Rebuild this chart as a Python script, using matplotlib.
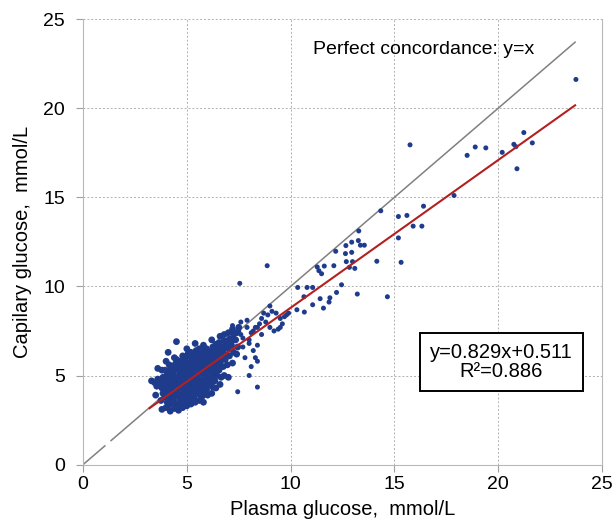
import matplotlib
matplotlib.use("Agg")
import matplotlib.pyplot as plt
import numpy as np

plt.rcParams['font.family'] = ['Liberation Sans', 'DejaVu Sans']

# outlying measurements (plasma, capillary), mmol/L
high_pts = [
    (23.74, 21.61), (15.75, 17.94), (21.23, 18.63), (21.64, 18.05), (20.75, 17.97),
    (20.85, 17.84), (20.90, 16.60), (20.19, 17.52), (18.89, 17.82), (19.40, 17.77),
    (18.50, 17.35), (17.87, 15.10), (14.34, 14.24), (15.19, 13.92), (15.60, 13.98),
    (16.40, 14.50), (15.90, 13.38), (16.32, 13.38), (15.19, 12.72), (15.32, 11.35),
    (14.15, 11.41), (13.28, 13.11), (13.36, 12.31), (13.55, 12.31), (13.26, 12.57),
    (12.94, 12.48), (12.66, 12.29), (12.64, 11.84), (12.94, 11.91), (12.68, 11.39),
    (12.98, 11.39), (12.83, 11.07), (13.09, 11.01), (12.17, 11.97), (12.08, 11.16),
    (11.28, 11.09), (11.62, 11.14), (11.36, 10.88), (11.49, 10.71), (12.45, 10.09),
    (12.21, 9.66), (13.21, 9.57), (14.66, 9.42), (10.34, 9.94), (10.79, 9.94),
    (11.06, 9.94), (10.64, 9.42), (10.30, 8.69), (10.66, 8.56), (11.06, 8.97),
    (11.42, 9.31), (11.89, 9.36), (11.85, 9.12), (11.58, 8.78), (8.87, 11.16),
    (7.55, 10.17), (8.40, 4.35), (7.45, 4.09),
]

mid_pts = [
    (9.10, 8.60), (9.30, 8.50), (9.70, 8.30), (9.50, 8.20), (9.90, 8.50), (8.90, 8.40),
    (8.60, 8.20), (8.50, 7.90), (8.30, 7.70), (8.10, 7.40), (7.90, 7.70), (7.50, 7.50),
    (7.60, 8.00), (8.20, 7.50), (8.40, 7.70), (9.00, 7.70), (9.20, 7.50), (9.50, 7.70),
    (9.60, 7.90), (8.80, 8.00), (7.20, 7.80), (7.70, 7.10), (7.30, 7.40), (7.90, 8.10),
    (8.00, 7.00), (8.40, 6.70), (8.20, 6.40), (8.40, 5.80), (8.10, 5.50), (8.00, 5.00),
    (7.80, 6.00), (8.30, 6.00), (8.60, 7.30), (9.40, 7.60), (9.00, 8.90), (8.70, 8.50),
    (7.70, 6.60), (7.60, 7.30), (8.00, 6.80), (9.80, 8.40),
]

# dense cluster of normal values
cluster_pts = [
    (3.30, 4.70), (3.45, 4.60), (3.60, 5.40), (3.55, 4.40), (3.50, 3.90), (3.60, 4.80),
    (3.80, 3.10), (3.75, 3.60), (3.85, 4.00), (3.80, 4.30), (3.75, 4.60), (3.85, 4.90), (3.80, 5.30),
    (4.00, 3.20), (4.05, 3.50), (3.95, 3.80), (4.00, 4.05), (4.05, 4.30), (3.95, 4.55),
    (4.00, 4.80), (4.05, 5.05), (3.95, 5.30), (4.00, 5.80), (4.10, 6.30),
    (4.20, 3.00), (4.15, 3.35), (4.25, 3.60), (4.20, 3.85), (4.15, 4.10), (4.25, 4.35),
    (4.20, 4.60), (4.15, 4.85), (4.25, 5.10), (4.20, 5.35), (4.15, 5.60),
    (4.40, 3.15), (4.45, 3.40), (4.35, 3.65), (4.40, 3.90), (4.45, 4.15), (4.35, 4.40),
    (4.40, 4.65), (4.45, 4.90), (4.35, 5.15), (4.40, 5.40), (4.45, 5.65), (4.40, 6.00),
    (4.60, 3.05), (4.55, 3.30), (4.65, 3.55), (4.60, 3.80), (4.55, 4.05), (4.65, 4.30),
    (4.60, 4.55), (4.55, 4.80), (4.65, 5.05), (4.60, 5.30), (4.55, 5.55), (4.65, 5.80), (4.50, 6.90),
    (4.80, 3.20), (4.85, 3.45), (4.75, 3.70), (4.80, 3.95), (4.85, 4.20), (4.75, 4.45),
    (4.80, 4.70), (4.85, 4.95), (4.75, 5.20), (4.80, 5.45), (4.85, 5.70), (4.80, 6.10),
    (5.00, 3.30), (4.95, 3.55), (5.05, 3.80), (5.00, 4.05), (4.95, 4.30), (5.05, 4.55),
    (5.00, 4.80), (4.95, 5.05), (5.05, 5.30), (5.00, 5.55), (4.95, 5.80), (5.05, 6.20), (5.00, 6.50),
    (5.20, 3.40), (5.25, 3.65), (5.15, 3.90), (5.20, 4.15), (5.25, 4.40), (5.15, 4.65),
    (5.20, 4.90), (5.25, 5.15), (5.15, 5.40), (5.20, 5.65), (5.25, 5.90), (5.20, 6.30),
    (5.40, 3.50), (5.35, 3.75), (5.45, 4.00), (5.40, 4.25), (5.35, 4.50), (5.45, 4.75),
    (5.40, 5.00), (5.35, 5.25), (5.45, 5.50), (5.40, 5.75), (5.35, 6.00), (5.45, 6.40), (5.40, 6.80),
    (5.60, 3.60), (5.65, 3.90), (5.55, 4.15), (5.60, 4.40), (5.65, 4.65), (5.55, 4.90),
    (5.60, 5.15), (5.65, 5.40), (5.55, 5.65), (5.60, 5.90), (5.65, 6.15), (5.60, 6.50),
    (5.80, 3.50), (5.75, 3.85), (5.85, 4.10), (5.80, 4.35), (5.75, 4.60), (5.85, 4.85),
    (5.80, 5.10), (5.75, 5.35), (5.85, 5.60), (5.80, 5.85), (5.75, 6.10), (5.85, 6.40), (5.80, 6.70),
    (6.00, 3.90), (5.95, 4.20), (6.05, 4.45), (6.00, 4.70), (5.95, 4.95), (6.05, 5.20),
    (6.00, 5.45), (5.95, 5.70), (6.05, 5.95), (6.00, 6.20), (5.95, 6.50),
    (6.20, 4.00), (6.25, 4.35), (6.15, 4.60), (6.20, 4.85), (6.25, 5.10), (6.15, 5.35),
    (6.20, 5.60), (6.25, 5.85), (6.15, 6.10), (6.20, 6.35), (6.25, 6.60), (6.20, 7.00),
    (6.40, 4.30), (6.35, 4.70), (6.45, 5.00), (6.40, 5.25), (6.35, 5.50), (6.45, 5.75),
    (6.40, 6.00), (6.35, 6.25), (6.45, 6.50), (6.40, 6.75),
    (6.60, 4.50), (6.65, 4.90), (6.55, 5.30), (6.60, 5.60), (6.65, 5.85), (6.55, 6.10),
    (6.60, 6.35), (6.65, 6.60), (6.55, 6.85), (6.60, 7.20),
    (6.80, 5.00), (6.75, 5.50), (6.85, 5.90), (6.80, 6.20), (6.75, 6.45), (6.85, 6.70),
    (6.80, 6.95), (6.80, 7.30),
    (7.00, 4.90), (6.95, 5.60), (7.05, 6.10), (7.00, 6.50), (6.95, 6.80), (7.05, 7.05), (7.00, 7.40),
    (7.20, 5.70), (7.25, 6.30), (7.15, 6.70), (7.20, 7.00), (7.25, 7.30), (7.20, 7.60),
    (7.40, 6.20), (7.45, 6.60), (7.35, 7.00), (7.40, 7.40), (7.50, 7.70),
]

# extra readings inside the dense core
core_pts = [
    (4.10, 3.70), (4.10, 4.20), (4.10, 4.70), (4.10, 5.20),
    (4.30, 3.50), (4.30, 4.00), (4.30, 4.50), (4.30, 5.00), (4.30, 5.50),
    (4.50, 3.40), (4.50, 3.90), (4.50, 4.40), (4.50, 4.90), (4.50, 5.40), (4.50, 5.90),
    (4.70, 3.40), (4.70, 3.85), (4.70, 4.30), (4.70, 4.80), (4.70, 5.30), (4.70, 5.80),
    (4.90, 3.60), (4.90, 4.10), (4.90, 4.60), (4.90, 5.10), (4.90, 5.60), (4.90, 6.00),
    (5.10, 3.70), (5.10, 4.20), (5.10, 4.70), (5.10, 5.20), (5.10, 5.70), (5.10, 6.10),
    (5.30, 3.80), (5.30, 4.30), (5.30, 4.80), (5.30, 5.30), (5.30, 5.80), (5.30, 6.20),
    (5.50, 4.00), (5.50, 4.50), (5.50, 5.00), (5.50, 5.50), (5.50, 6.00), (5.50, 6.30),
    (5.70, 4.20), (5.70, 4.70), (5.70, 5.20), (5.70, 5.70), (5.70, 6.20),
    (5.90, 4.40), (5.90, 4.90), (5.90, 5.40), (5.90, 5.90), (5.90, 6.30),
    (6.10, 4.70), (6.10, 5.20), (6.10, 5.70), (6.10, 6.20),
    (6.30, 5.00), (6.30, 5.50), (6.30, 6.00), (6.30, 6.50),
    (6.50, 5.40), (6.50, 5.90), (6.50, 6.30),
]

slope, intercept, r2 = 0.829, 0.511, 0.886
fit_range = [3.2, 23.7]
ticks = [0, 5, 10, 15, 20, 25]

sparse = np.array(high_pts + mid_pts)
dense = np.array(cluster_pts + core_pts)

fig, ax = plt.subplots(figsize=(6.15, 5.28), dpi=100)
fig.subplots_adjust(left=0.135, right=0.979, top=0.964, bottom=0.12)

ax.grid(True, color='#b0b0b0', linestyle=(0, (2, 2)), linewidth=0.7)
ax.set_axisbelow(True)

# perfect concordance line (small break near the origin as in the source)
ax.plot([0, 1.05], [0, 1.05], color='#808080', lw=1.1)
ax.plot([1.35, 23.7], [1.35, 23.7], color='#808080', lw=1.1)

ax.scatter(sparse[:, 0], sparse[:, 1], s=13, color='#1f3c8c', edgecolors='none', zorder=3)
ax.scatter(dense[:, 0], dense[:, 1], s=24, color='#1f3c8c', edgecolors='none', zorder=3)

fx = np.array(fit_range)
ax.plot(fx, slope * fx + intercept, color='#b22020', lw=1.5, zorder=4)

ax.text(16.4, 23.3, 'Perfect concordance: y=x', fontsize=14, ha='center', va='center')
ax.text(20.15, 5.78, f'y={slope}x+{intercept}\nR\u00b2={r2}', fontsize=14.5,
        ha='center', va='center', linespacing=1.0,
        bbox=dict(boxstyle='square,pad=0.5', facecolor='white', edgecolor='black', lw=1.4))

ax.set_xlim(0, 25)
ax.set_ylim(0, 25)
ax.set_xticks(ticks)
ax.set_yticks(ticks)
ax.tick_params(axis='both', labelsize=14, color='#a0a0a0', length=5)
ax.tick_params(axis='y', pad=8)
ax.set_xlabel('Plasma glucose,  mmol/L', fontsize=14.5, labelpad=5)
ax.set_ylabel('Capilary glucose,  mmol/L', fontsize=14.5, labelpad=8)

for side in ['left', 'bottom', 'right']:
    ax.spines[side].set_color('#b8b8b8')
ax.spines['top'].set_visible(False)

fig.savefig('out.png', dpi=100)
